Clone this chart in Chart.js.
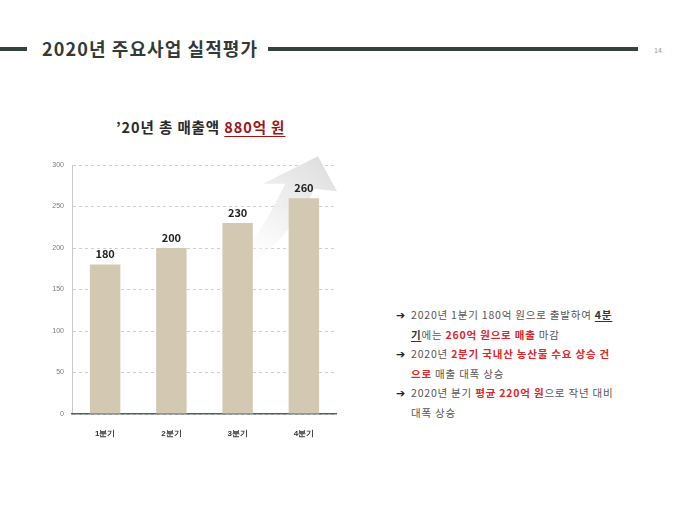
<!DOCTYPE html>
<html>
<head>
<meta charset="utf-8">
<script src="https://cdn.jsdelivr.net/npm/chart.js@4"></script>
<style>
  body { margin: 0; width: 680px; height: 510px; background: #fff; position: relative; overflow: hidden;
         font-family: "Noto Sans CJK KR", "Noto Sans", sans-serif; }
  .bar-left { position: absolute; left: 0; top: 47px; width: 27px; height: 4px; background: #34443c; }
  .bar-right { position: absolute; left: 268px; top: 47px; width: 370px; height: 4px; background: #34443c; }
  .title { position: absolute; left: 42px; top: 35px; font-size: 18px; font-weight: bold; color: #333a36; letter-spacing: 1.1px; }
  .page { position: absolute; left: 654px; top: 45px; font-size: 7px; color: #999; }
  .sub { position: absolute; left: 116px; top: 116px; font-size: 14.5px; font-weight: bold; color: #2a2a2a; letter-spacing: 0.9px; }
  .sub .hl { color: #a01515; text-decoration: underline; text-underline-offset: 3px; }
  #wrap { position: absolute; left: 40px; top: 150px; width: 297px; height: 290px; }
  .notes { position: absolute; left: 396px; top: 305px; font-size: 10.5px; color: #555; line-height: 19px; letter-spacing: 0.8px; }
  .notes .ln { white-space: nowrap; }
  .notes .ar { display: inline-block; width: 15px; color: #222; font-family: "DejaVu Sans"; font-weight: bold; font-size: 11px; letter-spacing: 0; }
  .notes .ind { padding-left: 15px; }
  .notes .r { color: #e0262a; font-weight: bold; }
  .notes .u { color: #333; font-weight: bold; text-decoration: underline; text-underline-offset: 2px; }
</style>
</head>
<body>
<div class="bar-left"></div>
<div class="title">2020년 주요사업 실적평가</div>
<div class="bar-right"></div>
<div class="page">14</div>
<div class="sub">’20년 총 매출액 <span class="hl">880억 원</span></div>
<div id="wrap"><canvas id="salesChart"></canvas></div>
<div class="notes">
  <div class="ln"><span class="ar">➔</span>2020년 1분기 180억 원으로 출발하여 <span class="u">4분</span></div>
  <div class="ln ind"><span class="u">기</span>에는 <span class="r">260억 원으로 매출</span> 마감</div>
  <div class="ln"><span class="ar">➔</span>2020년 <span class="r">2분기 국내산 농산물 수요 상승 건</span></div>
  <div class="ln ind"><span class="r">으로</span> 매출 대폭 상승</div>
  <div class="ln"><span class="ar">➔</span>2020년 분기 <span class="r">평균 220억 원</span>으로 작년 대비</div>
  <div class="ln ind">대폭 상승</div>
</div>
<script>
const quarters = ['1분기', '2분기', '3분기', '4분기'];
const sales = [180, 200, 230, 260];
const yTicks = [0, 50, 100, 150, 200, 250, 300];

// soft grey arrow behind the bars
const arrowPlugin = {
    id: 'arrowBg',
    beforeDatasetsDraw(chart) {
        const { ctx, chartArea: a } = chart;
        const px = (fx) => a.left + fx * (a.right - a.left);
        const py = (fy) => a.top + fy * (a.bottom - a.top);
        ctx.save();
        const g = ctx.createLinearGradient(px(0.95), py(-0.03), px(0.6), py(0.45));
        g.addColorStop(0, 'rgba(222,222,222,1)');
        g.addColorStop(0.45, 'rgba(238,238,238,0.85)');
        g.addColorStop(1, 'rgba(255,255,255,0)');
        ctx.fillStyle = g;
        ctx.beginPath();
        ctx.moveTo(px(0.928), py(-0.035));
        ctx.lineTo(px(1.0), py(0.105));
        ctx.lineTo(px(0.915), py(0.095));
        ctx.quadraticCurveTo(px(0.83), py(0.3), px(0.58), py(0.47));
        ctx.quadraticCurveTo(px(0.72), py(0.26), px(0.805), py(0.075));
        ctx.lineTo(px(0.72), py(0.075));
        ctx.closePath();
        ctx.fill();
        ctx.restore();
    }
};

const valueLabels = {
    id: 'valueLabels',
    afterDatasetsDraw(chart) {
        const { ctx } = chart;
        ctx.save();
        ctx.font = 'bold 11px "Noto Sans CJK KR", sans-serif';
        ctx.fillStyle = '#222';
        ctx.textAlign = 'center';
        ctx.textBaseline = 'bottom';
        chart.getDatasetMeta(0).data.forEach((bar, i) => {
            ctx.fillText(sales[i], bar.x, bar.y - 5);
        });
        ctx.restore();
    }
};

new Chart(document.getElementById('salesChart'), {
    type: 'bar',
    data: {
        labels: quarters,
        datasets: [{
            data: sales,
            backgroundColor: '#d3c9b3',
            categoryPercentage: 1,
            barPercentage: 0.46
        }]
    },
    options: {
        responsive: true,
        maintainAspectRatio: false,
        animation: false,
        layout: { padding: { top: 15, right: 0 } },
        plugins: { legend: { display: false }, tooltip: { enabled: false } },
        scales: {
            y: {
                min: 0,
                max: 300,
                afterFit: (s) => { s.width = 32; },
                afterBuildTicks: (s) => { s.ticks = yTicks.map(v => ({ value: v })); },
                ticks: { color: '#777', font: { size: 7 }, padding: 8 },
                grid: { color: '#cfcfcf', borderDash: [3, 3], drawTicks: false },
                border: { display: true, color: '#c8c8c8', dash: [3, 3] }
            },
            x: {
                afterFit: (s) => { s.height = 26; },
                ticks: { color: '#333', font: { size: 8, weight: 'bold' }, padding: 7 },
                grid: { display: false },
                border: { color: '#57625c', width: 1.5 }
            }
        }
    },
    plugins: [arrowPlugin, valueLabels]
});
</script>
</body>
</html>
